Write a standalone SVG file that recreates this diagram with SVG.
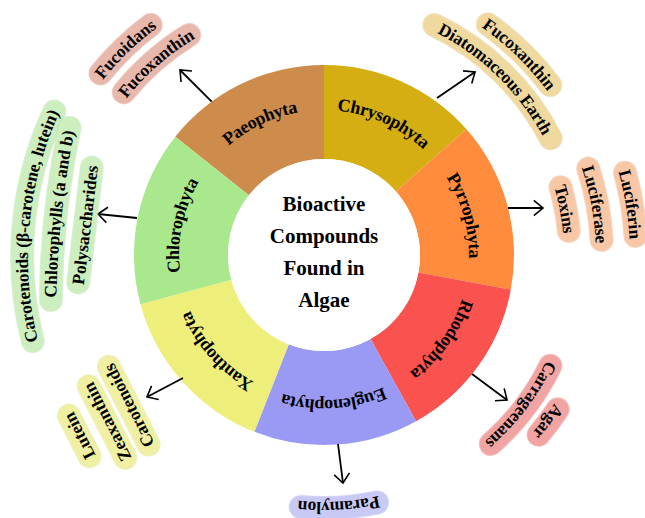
<svg xmlns="http://www.w3.org/2000/svg" width="645" height="518" viewBox="0 0 645 518">
<style>
  text { font-family: "Liberation Serif", "Times New Roman", serif; font-weight: bold; fill: #000; }
  .ring { font-size: 18px; dominant-baseline: central; }
  .out { font-size: 17.5px; dominant-baseline: central; }
  .center { font-size: 21px; text-anchor: middle; }
  .pill { fill: none; stroke-linecap: round; stroke-width: 22; }
  .edge { fill: none; stroke-linecap: round; stroke-width: 24; opacity: 0.5; }
  .arrow { stroke: #000; stroke-width: 1.8; fill: none; marker-end: url(#ah); }
</style>
<defs>
  <marker id="ah" markerUnits="userSpaceOnUse" markerWidth="14" markerHeight="20" viewBox="-12 -10 14 20" refX="0" refY="0" orient="auto" overflow="visible">
    <path d="M-9.2,-7.7 L0,0 L-9.2,7.7" fill="none" stroke="#000" stroke-width="1.6"/>
  </marker>
  <!-- text guide circles (clockwise) -->
  <path id="ringPath" d="M324,104 A151,151 0 1 1 324,406 A151,151 0 1 1 324,104"/>
  <path id="c288" d="M324,-33 A288,288 0 1 1 324,543 A288,288 0 1 1 324,-33"/>
  <path id="c258" d="M324,-3 A258,258 0 1 1 324,513 A258,258 0 1 1 324,-3"/>
  <path id="c255" d="M324,0 A255,255 0 1 1 324,510 A255,255 0 1 1 324,0"/>
  <path id="c283" d="M324,-28 A283,283 0 1 1 324,538 A283,283 0 1 1 324,-28"/>
  <path id="c246" d="M324,9 A246,246 0 1 1 324,501 A246,246 0 1 1 324,9"/>
  <path id="c278" d="M324,-23 A278,278 0 1 1 324,533 A278,278 0 1 1 324,-23"/>
  <path id="c312" d="M324,-57 A312,312 0 1 1 324,567 A312,312 0 1 1 324,-57"/>
  <path id="c252" d="M324,3 A252,252 0 1 1 324,507 A252,252 0 1 1 324,3"/>
  <path id="c280" d="M324,-25 A280,280 0 1 1 324,535 A280,280 0 1 1 324,-25"/>
  <path id="c253" d="M324,2 A253,253 0 1 1 324,508 A253,253 0 1 1 324,2"/>
  <path id="t-carot1" d="M705.7,288.3 A342.5,342.5 0 1 1 23.7,224.5 A342.5,342.5 0 1 1 705.7,288.3"/>
  <path id="t-chloro" d="M1731.7,394.5 A842.8,842.8 0 1 1 55.9,213.5 A842.8,842.8 0 1 1 1731.7,394.5"/>
  <path id="t-poly" d="M70.8,344.2 L99.2,105.8"/>
  <path id="t-lutein" d="M115.5,507.2 L42.9,364.6"/>
  <path id="t-zeax" d="M143.3,493.3 L70.7,350.7"/>
  <path id="t-carot2" d="M165.0,476.9 L92.4,334.3"/>
  <!-- pill centre lines -->
  <path id="p-fucoidans" d="M100.5,73.4 A288,288 0 0 1 150.7,25.0"/>
  <path id="p-fucox1" d="M123.8,92.3 A258,258 0 0 1 189.2,35.0"/>
  <path id="p-diatom" d="M434.4,25.1 A255,255 0 0 1 550.7,138.2"/>
  <path id="p-fucox2" d="M487.9,24.3 A283,283 0 0 1 550.3,85.1"/>
  <path id="p-toxins" d="M560.5,187.2 A246,246 0 0 1 568.8,230.9"/>
  <path id="p-luciferase" d="M588.2,168.6 A278,278 0 0 1 601.6,240.0"/>
  <path id="p-luciferin" d="M625.0,172.7 A312,312 0 0 1 635.4,235.9"/>
  <path id="p-carrag" d="M550.4,365.7 A252,252 0 0 1 490.7,444.0"/>
  <path id="p-agar" d="M557.7,409.3 A280,280 0 0 1 538.6,434.8"/>
  <path id="p-paramylon" d="M377.0,502.4 A253,253 0 0 1 300.7,506.9"/>
  <path id="p-carot1" d="M32.8,341.1 A342.5,342.5 0 0 1 54.3,111.6"/>
  <path id="p-chloro" d="M51.0,300.0 A842.8,842.8 0 0 1 69.6,127.8"/>
  <path id="p-poly" d="M78.2,282.4 L91.8,167.6"/>
  <path id="p-lutein" d="M89.55,456.2 L68.85,415.6"/>
  <path id="p-zeax" d="M125.3,457.9 L88.7,386.1"/>
  <path id="p-carot2" d="M148.54,444.54 L108.86,366.66"/>
</defs>
<rect x="0" y="0" width="645" height="518" fill="#fff"/>

<g id="paeophyta">
  <path d="M175.3,136.7 A190,190 0 0 1 324,65 L324,159 A96,96 0 0 0 248.9,195.2 Z" fill="#CD8B4C"/>
  <text class="ring"><textPath href="#ringPath" startOffset="92.85%" text-anchor="middle">Paeophyta</textPath></text>
</g>
<g id="chrysophyta">
  <path d="M324,65 A190,190 0 0 1 466.3,129.1 L395.9,191.4 A96,96 0 0 0 324,159 Z" fill="#D4AE12"/>
  <text class="ring"><textPath href="#ringPath" startOffset="6.74%" text-anchor="middle">Chrysophyta</textPath></text>
</g>
<g id="pyrrophyta">
  <path d="M466.3,129.1 A190,190 0 0 1 510.8,289.6 L418.4,272.5 A96,96 0 0 0 395.9,191.4 Z" fill="#FF8C3C"/>
  <text class="ring"><textPath href="#ringPath" startOffset="20.69%" text-anchor="middle">Pyrrophyta</textPath></text>
</g>
<g id="rhodophyta">
  <path d="M510.8,289.6 A190,190 0 0 1 416.1,421.2 L370.5,339.0 A96,96 0 0 0 418.4,272.5 Z" fill="#F9524F"/>
  <text class="ring"><textPath href="#ringPath" startOffset="34.93%" text-anchor="middle">Rhodophyta</textPath></text>
</g>
<g id="euglenophyta">
  <path d="M416.1,421.2 A190,190 0 0 1 254.4,431.8 L288.8,344.3 A96,96 0 0 0 370.5,339.0 Z" fill="#9A99F4"/>
  <text class="ring"><textPath href="#ringPath" startOffset="48.96%" text-anchor="middle">Euglenophyta</textPath></text>
</g>
<g id="xanthophyta">
  <path d="M254.4,431.8 A190,190 0 0 1 140.5,304.2 L231.3,279.8 A96,96 0 0 0 288.8,344.3 Z" fill="#EEEE7A"/>
  <text class="ring"><textPath href="#ringPath" startOffset="63.40%" text-anchor="middle">Xanthophyta</textPath></text>
</g>
<g id="chlorophyta">
  <path d="M140.5,304.2 A190,190 0 0 1 175.3,136.7 L248.9,195.2 A96,96 0 0 0 231.3,279.8 Z" fill="#A9E88D"/>
  <text class="ring"><textPath href="#ringPath" startOffset="78.26%" text-anchor="middle">Chlorophyta</textPath></text>
</g>

<g id="center">
  <circle cx="324" cy="255" r="96" fill="#fff"/>
  <text class="center" x="324" y="211">Bioactive</text>
  <text class="center" x="324" y="243">Compounds</text>
  <text class="center" x="324" y="275">Found in</text>
  <text class="center" x="324" y="307">Algae</text>
</g>

<g id="connectors">
  <line class="arrow" x1="211.7" y1="101.7" x2="180" y2="70"/>
  <line class="arrow" x1="437" y1="98" x2="475" y2="72"/>
  <line class="arrow" x1="508" y1="208" x2="543" y2="208"/>
  <line class="arrow" x1="472" y1="374" x2="507" y2="400"/>
  <line class="arrow" x1="338" y1="444" x2="343" y2="483"/>
  <line class="arrow" x1="183" y1="378" x2="147" y2="397"/>
  <line class="arrow" x1="137" y1="218" x2="98" y2="214"/>
</g>

<g id="paeophyta-compounds">
  <use href="#p-fucoidans" class="edge" stroke="#D9998C"/>
  <use href="#p-fucoidans" class="pill" stroke="#E8B8AC"/>
  <use href="#p-fucox1" class="edge" stroke="#D9998C"/>
  <use href="#p-fucox1" class="pill" stroke="#E8B8AC"/>
  <text class="out"><textPath href="#c288" startOffset="87.79%" text-anchor="middle">Fucoidans</textPath></text>
  <text class="out"><textPath href="#c258" startOffset="88.56%" text-anchor="middle">Fucoxanthin</textPath></text>
</g>
<g id="chrysophyta-compounds">
  <use href="#p-diatom" class="edge" stroke="#DFC27A"/>
  <use href="#p-diatom" class="pill" stroke="#EFD99E"/>
  <use href="#p-fucox2" class="edge" stroke="#DFC27A"/>
  <use href="#p-fucox2" class="pill" stroke="#EFD99E"/>
  <text class="out"><textPath href="#c255" startOffset="12.28%" text-anchor="middle">Diatomaceous Earth</textPath></text>
  <text class="out"><textPath href="#c283" startOffset="12.29%" text-anchor="middle">Fucoxanthin</textPath></text>
</g>
<g id="pyrrophyta-compounds">
  <use href="#p-toxins" class="edge" stroke="#EDAE86"/>
  <use href="#p-toxins" class="pill" stroke="#F8C7A6"/>
  <use href="#p-luciferase" class="edge" stroke="#EDAE86"/>
  <use href="#p-luciferase" class="pill" stroke="#F8C7A6"/>
  <use href="#p-luciferin" class="edge" stroke="#EDAE86"/>
  <use href="#p-luciferin" class="pill" stroke="#F8C7A6"/>
  <text class="out"><textPath href="#c246" startOffset="22.0%" text-anchor="middle">Toxins</textPath></text>
  <text class="out"><textPath href="#c278" startOffset="22.06%" text-anchor="middle">Luciferase</textPath></text>
  <text class="out"><textPath href="#c312" startOffset="22.39%" text-anchor="middle">Luciferin</textPath></text>
</g>
<g id="rhodophyta-compounds">
  <use href="#p-carrag" class="edge" stroke="#E48584"/>
  <use href="#p-carrag" class="pill" stroke="#F2A4A3"/>
  <use href="#p-agar" class="edge" stroke="#E48584"/>
  <use href="#p-agar" class="pill" stroke="#F2A4A3"/>
  <text class="out"><textPath href="#c252" startOffset="35.36%" text-anchor="middle">Carrageenans</textPath></text>
  <text class="out"><textPath href="#c280" startOffset="35.19%" text-anchor="middle">Agar</textPath></text>
</g>
<g id="euglenophyta-compounds">
  <use href="#p-paramylon" class="edge" stroke="#ACACEA"/>
  <use href="#p-paramylon" class="pill" stroke="#C9C9F5"/>
  <text class="out"><textPath href="#c253" startOffset="49.06%" text-anchor="middle">Paramylon</textPath></text>
</g>
<g id="xanthophyta-compounds">
  <use href="#p-lutein" class="edge" stroke="#E2E284"/>
  <use href="#p-lutein" class="pill" stroke="#F0F0A4"/>
  <use href="#p-zeax" class="edge" stroke="#E2E284"/>
  <use href="#p-zeax" class="pill" stroke="#F0F0A4"/>
  <use href="#p-carot2" class="edge" stroke="#E2E284"/>
  <use href="#p-carot2" class="pill" stroke="#F0F0A4"/>
  <text class="out"><textPath href="#t-lutein" startOffset="50%" text-anchor="middle">Lutein</textPath></text>
  <text class="out"><textPath href="#t-zeax" startOffset="50%" text-anchor="middle">Zeaxanthin</textPath></text>
  <text class="out"><textPath href="#t-carot2" startOffset="50%" text-anchor="middle">Carotenoids</textPath></text>
</g>
<g id="chlorophyta-compounds">
  <use href="#p-carot1" class="edge" stroke="#B5E0A3"/>
  <use href="#p-carot1" class="pill" stroke="#CDEEBF"/>
  <use href="#p-chloro" class="edge" stroke="#B5E0A3"/>
  <use href="#p-chloro" class="pill" stroke="#CDEEBF"/>
  <use href="#p-poly" class="edge" stroke="#B5E0A3"/>
  <use href="#p-poly" class="pill" stroke="#CDEEBF"/>
  <text class="out"><textPath href="#t-carot1" startOffset="50%" text-anchor="middle">Carotenoids (β-carotene, lutein)</textPath></text>
  <text class="out"><textPath href="#t-chloro" startOffset="50%" text-anchor="middle">Chlorophylls (a and b)</textPath></text>
  <text class="out"><textPath href="#t-poly" startOffset="50%" text-anchor="middle">Polysaccharides</textPath></text>
</g>
</svg>
